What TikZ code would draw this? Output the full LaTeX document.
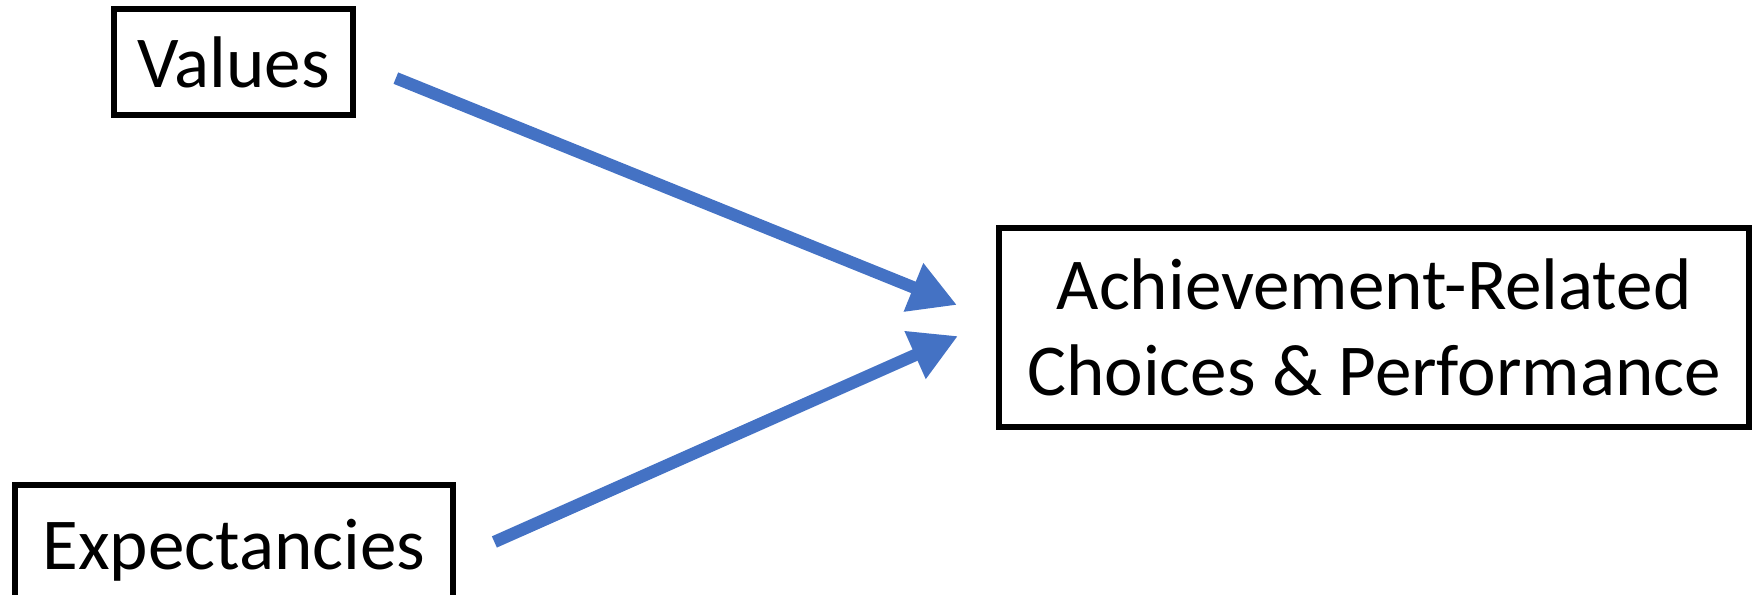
\documentclass[tikz,border=0pt]{standalone}
\usepackage{fontspec}
\setmainfont{Carlito}
\usepackage{xcolor}
\usepackage{tikz}
\definecolor{officeblue}{RGB}{68, 114, 196}
\usetikzlibrary{arrows.meta,positioning,calc}

\begin{document}
\begin{tikzpicture}[
    concept/.style={
        rectangle,
        draw=black,
        line width=1.7pt,
        inner sep=0pt,
        align=center,
        font=\fontsize{20.8pt}{24.5pt}\selectfont
    },
    arrow/.style={-{Triangle[length=0.47cm,width=0.49cm]},line width=3.5pt,officeblue}
]
    \useasboundingbox (0,0) rectangle (17.52,5.94);
    % Concepts
    \node[concept, minimum width=2.39cm, minimum height=1.06cm] (values) at (2.335,5.32) {Values};
    \node[concept, minimum width=4.38cm, minimum height=1.3cm] (expect) at (2.34,0.44) {Expectancies};
    \node[concept, minimum width=7.5cm, minimum height=1.99cm] (achieve) at (13.74,2.665) {Achievement-Related\\Choices \& Performance};
    % Arrow ends
    \coordinate (in1) at ($(achieve.west)+(-0.39,0.225)$);
    \coordinate (in2) at ($(achieve.west)+(-0.38,-0.085)$);
    % Arrows
    \draw[arrow, shorten <=0.43cm] (values.east) -- (in1);
    \draw[arrow, shorten <=0.42cm] ([yshift=-0.09cm]expect.east) -- (in2);
\end{tikzpicture}
\end{document}
